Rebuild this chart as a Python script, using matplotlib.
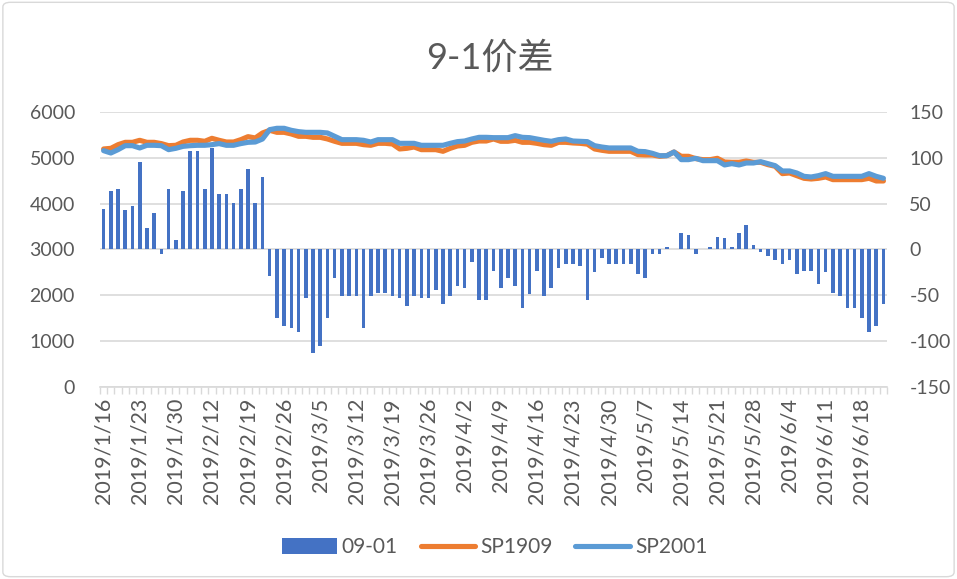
import matplotlib
matplotlib.use("Agg")
import matplotlib.pyplot as plt
from matplotlib.patches import Patch, FancyBboxPatch
from matplotlib.lines import Line2D
import numpy as np

plt.rcParams['font.family'] = ['Lato', 'Noto Sans CJK SC', 'DejaVu Sans']
plt.rcParams['axes.unicode_minus'] = False

# tick labels shown on the category axis (every 5th trading day)
tick_labels = ['2019/1/16', '2019/1/23', '2019/1/30', '2019/2/12', '2019/2/19',
               '2019/2/26', '2019/3/5', '2019/3/12', '2019/3/19', '2019/3/26',
               '2019/4/2', '2019/4/9', '2019/4/16', '2019/4/23', '2019/4/30',
               '2019/5/7', '2019/5/14', '2019/5/21', '2019/5/28', '2019/6/4',
               '2019/6/11', '2019/6/18']

# 09-01 spread (right axis)
spread = [44, 64, 66, 43, 47, 95, 23, 40, -5, 66,
          10, 64, 107, 107, 66, 111, 60, 60, 51, 66,
          88, 51, 79, -29, -75, -84, -86, -90, -53, -113,
          -105, -75, -31, -51, -51, -51, -86, -51, -47, -47,
          -51, -53, -62, -51, -53, -53, -44, -60, -51, -40,
          -42, -14, -55, -55, -23, -42, -31, -40, -64, -49,
          -23, -51, -42, -20, -16, -16, -18, -55, -25, -9,
          -16, -16, -16, -16, -27, -31, -5, -5, 3, 0,
          18, 16, -5, 0, 3, 14, 12, 3, 18, 27,
          5, -3, -7, -12, -16, -12, -27, -23, -23, -38,
          -25, -47, -51, -64, -64, -75, -90, -84, -60]

# SP1909 (left axis)
sp1909 = [5193, 5207, 5287, 5338, 5338, 5382, 5338, 5338, 5310, 5265,
          5273, 5345, 5382, 5382, 5360, 5425, 5382, 5345, 5345, 5396,
          5462, 5433, 5542, 5600, 5556, 5556, 5520, 5469, 5469, 5447,
          5447, 5411, 5360, 5316, 5316, 5316, 5287, 5273, 5316, 5316,
          5302, 5193, 5207, 5236, 5178, 5178, 5178, 5142, 5207, 5258,
          5273, 5338, 5367, 5367, 5411, 5360, 5360, 5382, 5338, 5338,
          5316, 5287, 5273, 5338, 5338, 5324, 5316, 5298, 5193, 5164,
          5142, 5142, 5142, 5142, 5069, 5062, 5062, 5033, 5047, 5127,
          5033, 5033, 4982, 4960, 4960, 4989, 4909, 4902, 4902, 4931,
          4902, 4902, 4851, 4815, 4655, 4669, 4611, 4553, 4538, 4553,
          4582, 4524, 4524, 4524, 4524, 4524, 4553, 4495, 4495]

# SP2001 (left axis)
sp2001 = [5156, 5105, 5178, 5265, 5265, 5215, 5273, 5273, 5265, 5178,
          5207, 5250, 5265, 5273, 5273, 5287, 5310, 5273, 5273, 5310,
          5338, 5345, 5410, 5615, 5644, 5644, 5600, 5571, 5556, 5556,
          5556, 5542, 5469, 5396, 5396, 5396, 5382, 5345, 5396, 5396,
          5396, 5316, 5316, 5316, 5273, 5273, 5273, 5273, 5316, 5353,
          5367, 5411, 5447, 5447, 5440, 5440, 5440, 5484, 5447, 5440,
          5411, 5382, 5360, 5396, 5411, 5367, 5360, 5353, 5265, 5236,
          5215, 5215, 5215, 5215, 5142, 5135, 5098, 5047, 5047, 5127,
          4960, 4960, 4989, 4938, 4938, 4938, 4844, 4873, 4844, 4887,
          4887, 4916, 4873, 4829, 4713, 4713, 4669, 4596, 4582, 4611,
          4655, 4596, 4596, 4596, 4596, 4596, 4655, 4596, 4553]

txt = '#595959'
grid_c = '#d9d9d9'
c_bar = '#4472C4'
c_1909 = '#ED7D31'
c_2001 = '#5B9BD5'

n = len(spread)
x = np.arange(n)

fig = plt.figure(figsize=(9.57, 5.79), dpi=100)
fig.patches.append(FancyBboxPatch((0.003, 0.004), 0.994, 0.992, boxstyle='round,pad=0,rounding_size=0.008',
                                  transform=fig.transFigure, fill=False, edgecolor=grid_c, linewidth=1))

ax = fig.add_axes([0.1045, 0.3316, 0.8224, 0.475])
ax2 = ax.twinx()

# bars on the secondary (right) axis, drawn below the lines
ax2.bar(x, spread, width=0.5, color=c_bar, zorder=2)
ax2.set_ylim(-150, 150)
ax2.set_yticks(np.arange(-150, 151, 50))
ax2.grid(axis='y', color=grid_c, linewidth=1.2, zorder=0)

lw = 3.7
ax.plot(x, sp1909, color=c_1909, linewidth=lw, solid_capstyle='round', solid_joinstyle='round')
ax.plot(x, sp2001, color=c_2001, linewidth=lw, solid_capstyle='round', solid_joinstyle='round')
ax.set_ylim(0, 6000)
ax.set_yticks(np.arange(0, 6001, 1000))
ax.set_zorder(ax2.get_zorder() + 1)
ax.patch.set_visible(False)

ax.set_xlim(-0.5, n - 0.5)
ax.set_xticks(np.arange(0, len(tick_labels) * 5, 5))
ax.set_xticklabels(tick_labels, rotation=90)
ax.set_xticks(np.arange(-0.5, n, 1), minor=True)
ax.tick_params(axis='x', which='major', length=0, pad=8, labelsize=15.5, labelcolor=txt)
ax.tick_params(axis='x', which='minor', length=5, color=grid_c, width=1)
ax.tick_params(axis='y', length=0, labelsize=14, labelcolor=txt, pad=18)
ax2.tick_params(axis='y', length=0, labelsize=14, labelcolor=txt, pad=16)

for a in (ax, ax2):
    for s in a.spines.values():
        s.set_visible(False)
ax.spines['bottom'].set_visible(True)
ax.spines['bottom'].set_color(grid_c)
ax.spines['bottom'].set_linewidth(1.2)

fig.text(0.512, 0.9, '9-1价差', ha='center', va='center', fontsize=26, color=txt)

handles = [Patch(facecolor=c_bar, edgecolor='none'),
           Line2D([0], [0], color=c_1909, linewidth=lw, solid_capstyle='round'),
           Line2D([0], [0], color=c_2001, linewidth=lw, solid_capstyle='round')]
fig.legend(handles, ['09-01', 'SP1909', 'SP2001'], loc='center', bbox_to_anchor=(0.517, 0.055),
           ncol=3, frameon=False, fontsize=15, labelcolor=txt, handlelength=2.6,
           handleheight=0.8, columnspacing=1.1, handletextpad=0.25)

fig.savefig('out.png', dpi=100)
